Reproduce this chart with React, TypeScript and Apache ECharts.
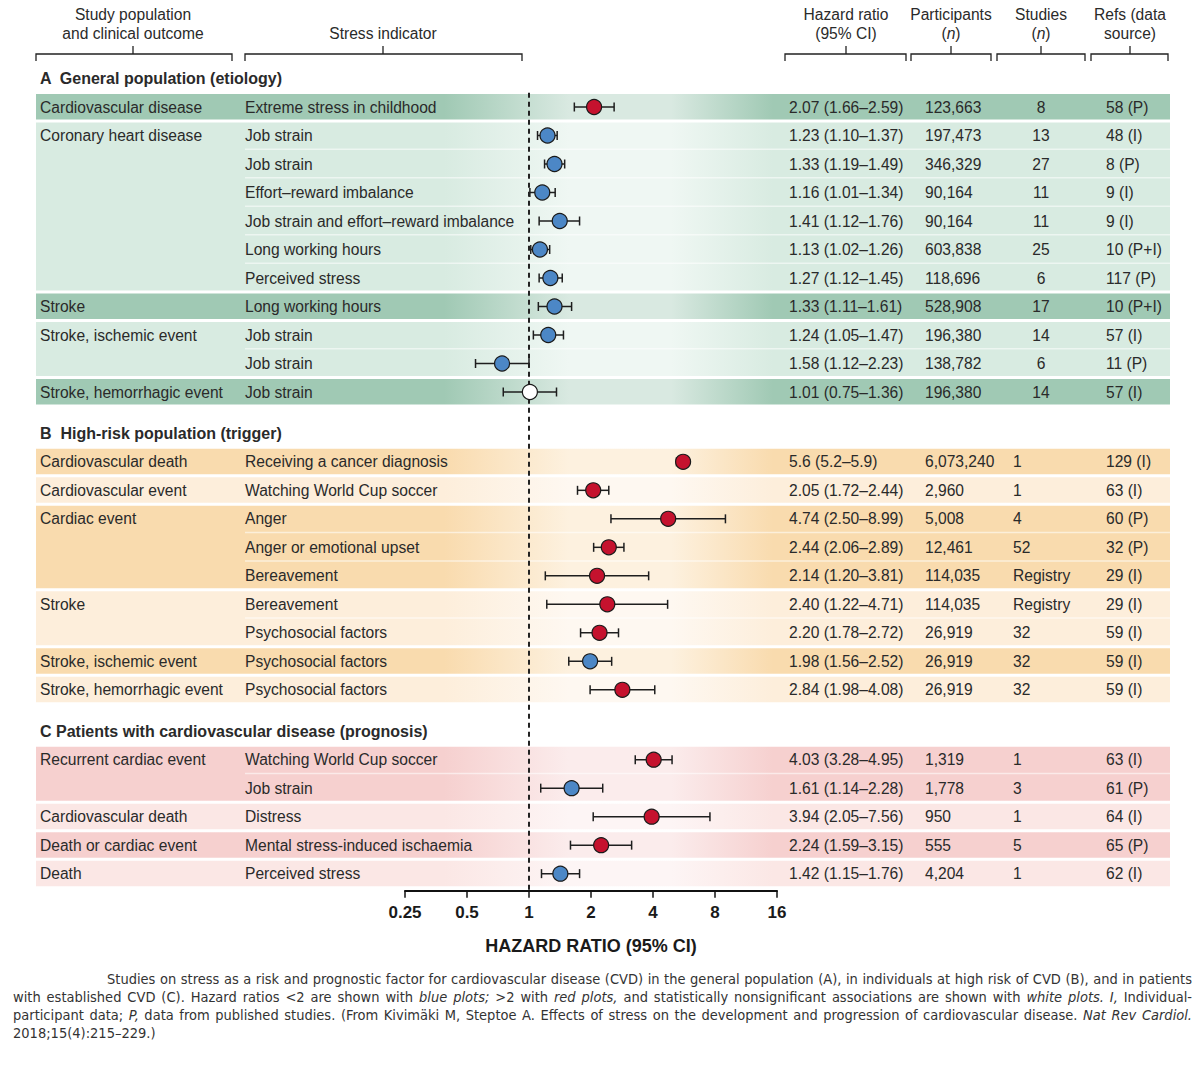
import React, { useEffect, useRef } from "react";
import * as echarts from "echarts";

// ---------------- DATA ----------------
const sectionTitles = [
  "A  General population (etiology)",
  "B  High-risk population (trigger)",
  "C Patients with cardiovascular disease (prognosis)",
];
const rowSection = [0, 0, 0, 0, 0, 0, 0, 0, 0, 0, 0, 1, 1, 1, 1, 1, 1, 1, 1, 1, 2, 2, 2, 2, 2];
const outcomes = [
  "Cardiovascular disease", "Coronary heart disease", "", "", "", "", "", "Stroke", "Stroke, ischemic event", "", "Stroke, hemorrhagic event",
  "Cardiovascular death", "Cardiovascular event", "Cardiac event", "", "", "Stroke", "", "Stroke, ischemic event", "Stroke, hemorrhagic event",
  "Recurrent cardiac event", "", "Cardiovascular death", "Death or cardiac event", "Death",
];
const indicators = [
  "Extreme stress in childhood", "Job strain", "Job strain", "Effort–reward imbalance", "Job strain and effort–reward imbalance",
  "Long working hours", "Perceived stress", "Long working hours", "Job strain", "Job strain", "Job strain",
  "Receiving a cancer diagnosis", "Watching World Cup soccer", "Anger", "Anger or emotional upset", "Bereavement",
  "Bereavement", "Psychosocial factors", "Psychosocial factors", "Psychosocial factors",
  "Watching World Cup soccer", "Job strain", "Distress", "Mental stress-induced ischaemia", "Perceived stress",
];
// plotted hazard ratios and CI bounds (as drawn)
const hr = [2.07, 1.23, 1.33, 1.16, 1.41, 1.13, 1.27, 1.33, 1.24, 0.74, 1.01, 5.6, 2.05, 4.74, 2.44, 2.14, 2.4, 2.2, 1.98, 2.84, 4.03, 1.61, 3.94, 2.24, 1.42];
const ciLow = [1.66, 1.1, 1.19, 1.01, 1.12, 1.02, 1.12, 1.11, 1.05, 0.55, 0.75, 5.2, 1.72, 2.5, 2.06, 1.2, 1.22, 1.78, 1.56, 1.98, 3.28, 1.14, 2.05, 1.59, 1.15];
const ciHigh = [2.59, 1.37, 1.49, 1.34, 1.76, 1.26, 1.45, 1.61, 1.47, 1.0, 1.36, 5.9, 2.44, 8.99, 2.89, 3.81, 4.71, 2.72, 2.52, 4.08, 4.95, 2.28, 7.56, 3.15, 1.76];
const hrLabels = [
  "2.07 (1.66–2.59)", "1.23 (1.10–1.37)", "1.33 (1.19–1.49)", "1.16 (1.01–1.34)", "1.41 (1.12–1.76)", "1.13 (1.02–1.26)",
  "1.27 (1.12–1.45)", "1.33 (1.11–1.61)", "1.24 (1.05–1.47)", "1.58 (1.12–2.23)", "1.01 (0.75–1.36)",
  "5.6 (5.2–5.9)", "2.05 (1.72–2.44)", "4.74 (2.50–8.99)", "2.44 (2.06–2.89)", "2.14 (1.20–3.81)", "2.40 (1.22–4.71)",
  "2.20 (1.78–2.72)", "1.98 (1.56–2.52)", "2.84 (1.98–4.08)",
  "4.03 (3.28–4.95)", "1.61 (1.14–2.28)", "3.94 (2.05–7.56)", "2.24 (1.59–3.15)", "1.42 (1.15–1.76)",
];
const participants = [
  "123,663", "197,473", "346,329", "90,164", "90,164", "603,838", "118,696", "528,908", "196,380", "138,782", "196,380",
  "6,073,240", "2,960", "5,008", "12,461", "114,035", "114,035", "26,919", "26,919", "26,919",
  "1,319", "1,778", "950", "555", "4,204",
];
const studies = ["8", "13", "27", "11", "11", "25", "6", "17", "14", "6", "14", "1", "1", "4", "52", "Registry", "Registry", "32", "32", "32", "1", "3", "1", "5", "1"];
const refs = [
  "58 (P)", "48 (I)", "8 (P)", "9 (I)", "9 (I)", "10 (P+I)", "117 (P)", "10 (P+I)", "57 (I)", "11 (P)", "57 (I)",
  "129 (I)", "63 (I)", "60 (P)", "32 (P)", "29 (I)", "29 (I)", "59 (I)", "59 (I)", "59 (I)",
  "63 (I)", "61 (P)", "64 (I)", "65 (P)", "62 (I)",
];
const xTicks = [0.25, 0.5, 1, 2, 4, 8, 16];
const axisTitle = "HAZARD RATIO (95% CI)";
const columnHeaders = [
  { lines: ["Study population", "and clinical outcome"], x: 133, from: 36, to: 232 },
  { lines: ["", "Stress indicator"], x: 383, from: 245, to: 522 },
  { lines: ["Hazard ratio", "(95% CI)"], x: 846, from: 785, to: 906 },
  { lines: ["Participants", "(*n*)"], x: 951, from: 911, to: 991 },
  { lines: ["Studies", "(*n*)"], x: 1041, from: 997, to: 1085 },
  { lines: ["Refs (data", "source)"], x: 1130, from: 1091, to: 1168 },
];
const captionLines = [
  "Studies on stress as a risk and prognostic factor for cardiovascular disease (CVD) in the general population (A), in individuals at high risk of CVD (B), and in patients",
  "with established CVD (C). Hazard ratios <2 are shown with *blue *plots; >2 with *red *plots, and statistically nonsignificant associations are shown with *white *plots. *I, Individual-",
  "participant data; *P, data from published studies. (From Kivimäki M, Steptoe A. Effects of stress on the development and progression of cardiovascular disease. *Nat *Rev *Cardiol.",
  "2018;15(4):215–229.)",
];

// ---------------- STYLE / LAYOUT ----------------
const FONT = '"Liberation Sans", Arial, sans-serif';
const CAP_FONT = '"Liberation Sans Narrow", "DejaVu Sans Condensed", sans-serif';
const TEXT = "#2a2a2a";
const RED = "#c5122e";
const BLUE = "#4c87c6";
const FS = 15.6;
const bandColors = [
  ["#a0c9b4", "#d8ebe1"],
  ["#f9dbae", "#fdeedb"],
  ["#f6d0cf", "#fbe7e5"],
];
const SECTION_GAP = 1.45;
const BAND_X0 = 36;
const BAND_X1 = 1170;

function mixWhite(hex: string, t: number) {
  const n = parseInt(hex.slice(1), 16);
  const r = (n >> 16) & 255, g = (n >> 8) & 255, b = n & 255;
  const m = (c: number) => Math.round(c + (255 - c) * t);
  return `rgb(${m(r)},${m(g)},${m(b)})`;
}

const positions = rowSection.map((s, i) => i + s * SECTION_GAP);

// groups (bands)
const groups: { start: number; end: number; sec: number; shade: number; rows: number[] }[] = [];
{
  let shade = 0;
  let prevSec = -1;
  outcomes.forEach((o, i) => {
    const sec = rowSection[i];
    if (sec !== prevSec) {
      shade = 0;
      prevSec = sec;
      groups.push({ start: i, end: i, sec, shade, rows: [i] });
    } else if (o !== "") {
      shade = 1 - shade;
      groups.push({ start: i, end: i, sec, shade, rows: [i] });
    } else {
      const g = groups[groups.length - 1];
      g.end = i;
      g.rows.push(i);
    }
  });
}

function colorKey(i: number) {
  if (ciLow[i] < 1 && ciHigh[i] > 1) return "white";
  return hr[i] < 2 ? "blue" : "red";
}

function buildCaption() {
  const canvas = document.createElement("canvas");
  const ctx = canvas.getContext("2d")!;
  const elements: any[] = [];
  const lineStarts = [107, 13, 13, 13];
  const lineEnd = 1192;
  const ys = [979, 997, 1015, 1033];
  let size = 16;
  const measure = (w: string, italic: boolean, s: number) => {
    ctx.font = `${italic ? "italic " : ""}${s}px ${CAP_FONT}`;
    return ctx.measureText(w).width;
  };
  for (; size > 10; size -= 0.5) {
    let ok = true;
    captionLines.slice(0, 3).forEach((line, li) => {
      const words = line.split(" ");
      let tot = 0;
      words.forEach((w) => {
        const it = w.startsWith("*");
        tot += measure(it ? w.slice(1) : w, it, size);
      });
      tot += (words.length - 1) * measure(" ", false, size);
      if (tot > lineEnd - lineStarts[li]) ok = false;
    });
    if (ok) break;
  }
  captionLines.forEach((line, li) => {
    const words = line.split(" ").map((w) => ({ it: w.startsWith("*"), t: w.startsWith("*") ? w.slice(1) : w }));
    const widths = words.map((w) => measure(w.t, w.it, size));
    const sum = widths.reduce((a, b) => a + b, 0);
    const justify = li < captionLines.length - 1;
    const gap = justify ? (lineEnd - lineStarts[li] - sum) / (words.length - 1) : measure(" ", false, size);
    let x = lineStarts[li];
    words.forEach((w, k) => {
      elements.push({
        type: "text",
        x,
        y: ys[li],
        silent: true,
        style: {
          text: w.t,
          fill: "#333",
          fontSize: size,
          fontFamily: CAP_FONT,
          fontStyle: w.it ? "italic" : "normal",
          align: "left",
          textAlign: "left",
          verticalAlign: "middle",
          textVerticalAlign: "middle",
        },
      });
      x += widths[k] + gap;
    });
  });
  return elements;
}

function buildHeaders() {
  const els: any[] = [];
  const ys = [14, 33];
  columnHeaders.forEach((h) => {
    h.lines.forEach((l, k) => {
      if (!l) return;
      const rich = l.includes("*n*");
      els.push({
        type: "text",
        x: h.x,
        y: ys[k],
        silent: true,
        style: {
          text: rich ? "(" + "{i|n})" : l,
          rich: { i: { fontStyle: "italic", fontSize: FS, fontFamily: FONT, fill: TEXT } },
          fill: TEXT,
          fontSize: FS,
          fontFamily: FONT,
          align: "center",
          textAlign: "center",
          verticalAlign: "middle",
          textVerticalAlign: "middle",
        },
      });
    });
    els.push({
      type: "polyline",
      silent: true,
      shape: { points: [[h.from, 61], [h.from, 54], [h.to, 54], [h.to, 61]] },
      style: { stroke: "#222", lineWidth: 1.3, fill: null },
    });
    els.push({
      type: "line",
      silent: true,
      shape: { x1: h.x, y1: 54, x2: h.x, y2: 46 },
      style: { stroke: "#222", lineWidth: 1.3 },
    });
  });
  return els;
}

function textEl(x: number, y: number, text: string, opts: any = {}) {
  const align = opts.align || "left";
  return {
    type: "text",
    x,
    y,
    silent: true,
    style: {
      text,
      fill: TEXT,
      fontSize: opts.size || FS,
      fontFamily: FONT,
      fontWeight: opts.bold ? "bold" : "normal",
      align,
      textAlign: align,
      verticalAlign: "middle",
      textVerticalAlign: "middle",
    },
  };
}

export default function App() {
  const ref = useRef<HTMLDivElement>(null);
  useEffect(() => {
    if (!ref.current) return;
    const chart = echarts.init(ref.current, null, { renderer: "svg" });

    const bandData = groups.map((g) => [1, positions[g.start], positions[g.end], g.sec, g.shade, g.start]);
    const textData = positions.map((p, i) => [1, p, i]);
    const sectionData = sectionTitles.map((_, s) => [1, positions[rowSection.indexOf(s)] - 1, s]);
    const errData = positions.map((p, i) => [ciLow[i], p, ciHigh[i]]);
    const pointData = positions.map((p, i) => [hr[i], p, colorKey(i)]);

    chart.setOption({
      animation: false,
      grid: { left: 405, right: 423, top: 7.25, bottom: 174.25, containLabel: false },
      xAxis: {
        type: "log",
        logBase: 2,
        min: xTicks[0],
        max: xTicks[xTicks.length - 1],
        splitNumber: xTicks.length - 1,
        interval: 1,
        name: axisTitle,
        nameLocation: "middle",
        nameGap: 46,
        nameTextStyle: { fontFamily: FONT, fontWeight: "bold", fontSize: 18, color: "#1a1a1a" },
        axisLine: { show: true, onZero: false, lineStyle: { color: "#111", width: 2 } },
        axisTick: { show: true, length: 7, lineStyle: { color: "#111", width: 1.5 } },
        axisLabel: {
          margin: 13,
          fontFamily: FONT,
          fontWeight: "bold",
          fontSize: 17,
          color: "#1a1a1a",
          formatter: (v: number) => String(Number(v.toPrecision(3))),
        },
        splitLine: { show: false },
        z: 6,
      },
      yAxis: {
        type: "value",
        inverse: true,
        min: -3.5,
        max: 27.5,
        show: false,
      },
      graphic: { elements: [...buildHeaders(), ...buildCaption()] },
      series: [
        {
          type: "custom",
          z: 1,
          silent: true,
          clip: false,
          encode: { x: 0, y: 1 },
          data: bandData,
          renderItem: (params: any, api: any) => {
            const ys = api.coord([1, api.value(1)])[1];
            const ye = api.coord([1, api.value(2)])[1];
            const sec = api.value(3);
            const sh = api.value(4);
            const c = bandColors[sec][sh];
            const l = mixWhite(c, 0.6);
            const y0 = ys - 13;
            const y1 = ye + 12.5;
            const fill = new echarts.graphic.LinearGradient(0, 0, 1, 0, [
              { offset: 0, color: c },
              { offset: 0.36, color: c },
              { offset: 0.47, color: l },
              { offset: 0.56, color: l },
              { offset: 0.65, color: c },
              { offset: 1, color: c },
            ]);
            const children: any[] = [
              { type: "rect", shape: { x: BAND_X0, y: y0, width: BAND_X1 - BAND_X0, height: y1 - y0 }, style: { fill } },
            ];
            const n = Math.round(api.value(2) - api.value(1));
            for (let k = 1; k <= n; k++) {
              const yy = api.coord([1, api.value(1) + k - 0.5])[1] - 0.5;
              children.push({
                type: "line",
                shape: { x1: 245, y1: yy, x2: BAND_X1, y2: yy },
                style: { stroke: "rgba(255,255,255,0.55)", lineWidth: 1.5 },
              });
            }
            return { type: "group", children };
          },
        },
        {
          type: "custom",
          z: 2,
          silent: true,
          clip: false,
          encode: { x: 0, y: 1 },
          data: textData,
          renderItem: (params: any, api: any) => {
            const i = api.value(2);
            const y = api.coord([1, api.value(1)])[1];
            const sec = rowSection[i];
            const children: any[] = [];
            if (outcomes[i]) children.push(textEl(40, y, outcomes[i]));
            children.push(textEl(245, y, indicators[i]));
            children.push(textEl(789, y, hrLabels[i]));
            children.push(textEl(925, y, participants[i]));
            if (sec === 0) children.push(textEl(1041, y, studies[i], { align: "center" }));
            else children.push(textEl(1013, y, studies[i]));
            children.push(textEl(1106, y, refs[i]));
            return { type: "group", children };
          },
        },
        {
          type: "custom",
          z: 2,
          silent: true,
          clip: false,
          encode: { x: 0, y: 1 },
          data: sectionData,
          renderItem: (params: any, api: any) => {
            const y = api.coord([1, api.value(1)])[1];
            return textEl(40, y, sectionTitles[api.value(2)], { bold: true, size: 16 });
          },
        },
        {
          type: "line",
          z: 3,
          data: [],
          silent: true,
          markLine: {
            silent: true,
            symbol: ["none", "none"],
            label: { show: false },
            lineStyle: { type: [5, 4], color: "#222", width: 2 },
            data: [[{ coord: [1, -0.5] }, { coord: [1, 27.5] }]],
          },
        },
        {
          type: "custom",
          z: 4,
          silent: true,
          clip: false,
          encode: { x: [0, 2], y: 1 },
          data: errData,
          renderItem: (params: any, api: any) => {
            const a = api.coord([api.value(0), api.value(1)]);
            const b = api.coord([api.value(2), api.value(1)]);
            const st = { stroke: "#1e1e1e", lineWidth: 1.5 };
            return {
              type: "group",
              children: [
                { type: "line", shape: { x1: a[0], y1: a[1], x2: b[0], y2: b[1] }, style: st },
                { type: "line", shape: { x1: a[0], y1: a[1] - 4.5, x2: a[0], y2: a[1] + 4.5 }, style: st },
                { type: "line", shape: { x1: b[0], y1: b[1] - 4.5, x2: b[0], y2: b[1] + 4.5 }, style: st },
              ],
            };
          },
        },
        {
          type: "scatter",
          z: 5,
          silent: true,
          symbol: "circle",
          symbolSize: 15,
          data: pointData,
          itemStyle: {
            borderColor: "#1a1a1a",
            borderWidth: 1.2,
            opacity: 1,
            color: (p: any) => (p.data[2] === "red" ? RED : p.data[2] === "blue" ? BLUE : "#ffffff"),
          },
        },
      ],
    });
    return () => chart.dispose();
  }, []);
  return (
    <div
      ref={ref}
      style={{ position: "absolute", left: 0, top: 0, width: 1200, height: 1065, background: "#fff" }}
    />
  );
}
